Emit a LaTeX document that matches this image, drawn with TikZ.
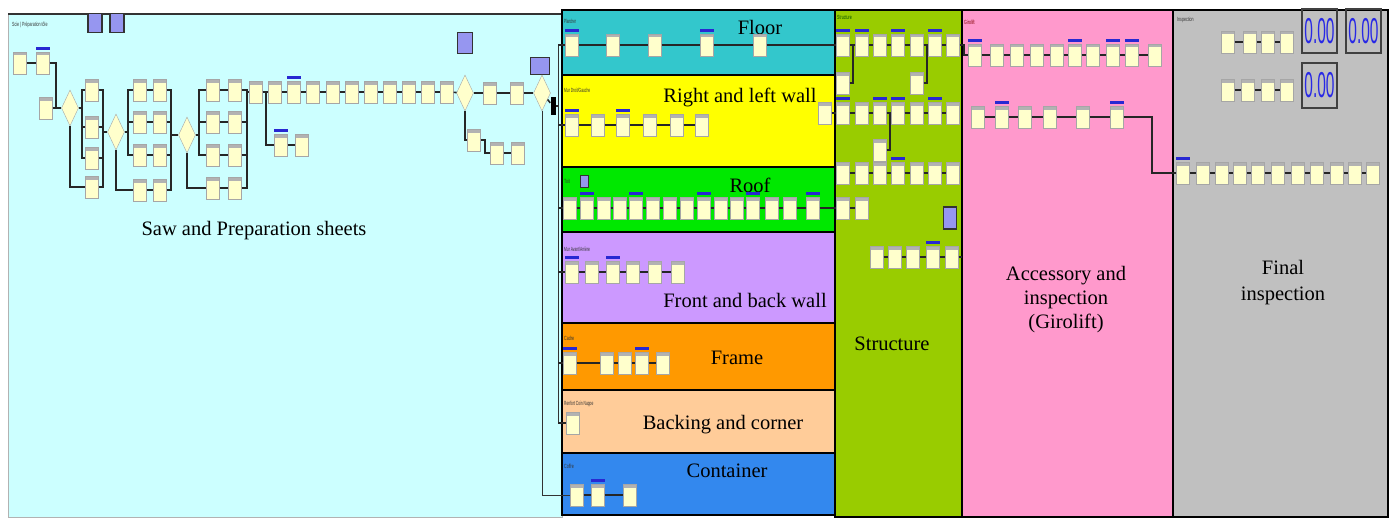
\documentclass[tikz,border=0pt]{standalone}
\usepackage{fontspec}
\setmainfont{Liberation Serif}
\newfontfamily\sansf{Liberation Sans}
\usepackage{graphicx}
\usetikzlibrary{shapes.geometric,calc}

\definecolor{sawbg}{RGB}{204,255,255}
\definecolor{floorbg}{RGB}{51,199,204}
\definecolor{wallbg}{RGB}{255,255,0}
\definecolor{roofbg}{RGB}{0,232,0}
\definecolor{frontbg}{RGB}{204,153,255}
\definecolor{framebg}{RGB}{255,153,0}
\definecolor{backbg}{RGB}{255,204,153}
\definecolor{contbg}{RGB}{51,136,238}
\definecolor{structbg}{RGB}{153,204,0}
\definecolor{girobg}{RGB}{255,153,204}
\definecolor{inspbg}{RGB}{192,192,192}
\definecolor{cream}{RGB}{255,255,204}
\definecolor{barblue}{RGB}{40,40,210}
\definecolor{purplebox}{RGB}{150,150,240}
\definecolor{valblue}{RGB}{40,40,230}

\tikzset{
 proc/.style={rectangle, draw=gray!70, fill=cream, minimum width=13pt, minimum height=22pt, inner sep=0pt, line width=0.4pt,
   path picture={\fill[gray!60] (path picture bounding box.north west) rectangle ([yshift=-3.5pt]path picture bounding box.north east);}},
 bbar/.style={fill=barblue, minimum width=14pt, minimum height=3pt, inner sep=0pt, anchor=south},
 dec/.style={diamond, draw=gray!70, fill=cream, aspect=0.45, minimum width=17pt, minimum height=36pt, inner sep=0pt},
 conn/.style={line width=1.6pt, draw=black!85},
 thinconn/.style={line width=1pt, draw=black!80},
 pbox/.style={rectangle, draw=black!80, line width=1.2pt, fill=purplebox, inner sep=0pt},
 panel/.style={draw=black, line width=1.5pt},
 biglab/.style={font=\fontsize{20.5}{24}\selectfont, inner sep=0pt, anchor=base},
 tinylab/.style={font=\sansf\fontsize{6}{6}\selectfont, inner sep=0pt, anchor=west, text=black!80},
 valbox/.style={rectangle, draw=black!75, line width=1.5pt, inner sep=0pt, text=valblue, minimum width=35pt},
}

\newcommand\mkchain[3]{%
  \foreach \xx [count=\ii] in {#3} {\node[proc] (#1\ii) at (\xx,#2) {};}%
  \foreach \xx [count=\ii, remember=\ii as \jj (initially 0)] in {#3} {\ifnum\ii>1 \draw[conn] (#1\jj) -- (#1\ii);\fi}%
}
\newcommand\mkbars[2]{\foreach \ii in {#2} {\node[bbar] (#1\ii-bar) at ([yshift=1.5pt]#1\ii.north) {};}}

\begin{document}
\begin{tikzpicture}[x=1pt,y=-1pt]
\useasboundingbox (0,0) rectangle (1391,519);
% ---------- panels
\path[fill=sawbg, draw=gray!60, line width=0.8pt] (8,14) rectangle (562,517);
\draw[line width=2pt, black!80] (8,14) -- (562,14);
\path[panel, fill=floorbg] (562,10) rectangle (835,75);
\path[panel, fill=wallbg] (562,75) rectangle (835,167);
\path[panel, fill=roofbg] (562,167) rectangle (835,232);
\path[panel, fill=frontbg] (562,232) rectangle (835,323);
\path[panel, fill=framebg] (562,323) rectangle (835,390);
\path[panel, fill=backbg] (562,390) rectangle (835,453);
\path[panel, fill=contbg] (562,453) rectangle (835,515);
\path[panel, fill=structbg] (835,10) rectangle (962,517);
\path[panel, fill=girobg] (962,10) rectangle (1173,517);
\path[panel, fill=inspbg] (1173,10) rectangle (1388,517);

% ---------- big labels
\node[biglab] (lab-saw) at (254,235) {Saw and Preparation sheets};
\node[biglab] (lab-floor) at (760,35) {Floor};
\node[biglab] (lab-wall) at (740,102) {Right and left wall};
\node[biglab] (lab-roof) at (750,192) {Roof};
\node[biglab] (lab-front) at (745,307) {Front and back wall};
\node[biglab] (lab-frame) at (737,364) {Frame};
\node[biglab] (lab-back) at (723,429) {Backing and corner};
\node[biglab] (lab-cont) at (727,477) {Container};
\node[biglab] (lab-struct) at (892,350) {Structure};
\node[font=\fontsize{20.5}{24}\selectfont, align=center, inner sep=0pt] (lab-giro) at (1066,300) {Accessory and\\inspection\\(Girolift)};
\node[font=\fontsize{20.5}{26}\selectfont, align=center, inner sep=0pt] (lab-insp) at (1283,283) {Final\\inspection};

% ---------- tiny titles
\node[tinylab] (t-saw) at (12,25) {\scalebox{0.6}[1]{Scie | Préparation tôle}};
\node[tinylab] (t-floor) at (564,21) {\scalebox{0.5}[1]{Plancher}};
\node[tinylab] (t-wall) at (564,90) {\scalebox{0.55}[1]{Mur Droit/Gauche}};
\node[tinylab] (t-roof) at (564,181) {\scalebox{0.6}[1]{Toit}};
\node[pbox, line width=0.8pt, minimum width=8pt, minimum height=12pt] (t-roofbox) at (584,181) {};
\node[tinylab] (t-front) at (564,249) {\scalebox{0.55}[1]{Mur Avant/Arrière}};
\node[tinylab] (t-frame) at (564,338) {\scalebox{0.6}[1]{Cadre}};
\node[tinylab] (t-back) at (564,404) {\scalebox{0.55}[1]{Renfort Coin Nappe}};
\node[tinylab] (t-cont) at (564,466) {\scalebox{0.6}[1]{Coffre}};
\node[tinylab, text=green!30!black] (t-struct) at (837,17) {\scalebox{0.6}[1]{Structure}};
\node[tinylab, text=red!50!black] (t-giro) at (964,22) {\scalebox{0.6}[1]{Girolift}};
\node[tinylab] (t-insp) at (1177,20) {\scalebox{0.6}[1]{Inspection}};

% ---------- purple boxes
\node[pbox, minimum width=14pt, minimum height=19pt] (pb1) at (95,23) {};
\node[pbox, minimum width=14pt, minimum height=19pt] (pb2) at (117,23) {};
\node[pbox, minimum width=15pt, minimum height=21pt] (pb3) at (465,43) {};
\node[pbox, minimum width=19pt, minimum height=17pt] (pb4) at (540,66) {};

% ---------- saw & preparation flow
\node[proc] (a1) at (20,63) {};
\node[proc] (a2) at (43,63) {};
\mkbars{a}{2}
\node[proc] (a3) at (46,108) {};
\node[dec] (d1) at (70,108) {};
\foreach \yy [count=\ii] in {90,127,158,187} {\node[proc] (c1-\ii) at (92,\yy) {};}
\node[dec] (d2) at (116,132) {};
\foreach \yy [count=\ii] in {90,122,155,190} {\node[proc] (c2l-\ii) at (140,\yy) {}; \node[proc] (c2r-\ii) at (160,\yy) {};}
\node[dec] (d3) at (187,135) {};
\foreach \yy [count=\ii] in {90,122,155,188} {\node[proc] (c3l-\ii) at (213,\yy) {}; \node[proc] (c3r-\ii) at (235,\yy) {};}
\mkchain{m}{92}{256,275,294,313,333,352,371,390,409,428,447}
\mkbars{m}{3}
\node[proc] (br1) at (281,145) {};
\mkbars{br}{1}
\node[proc] (br2) at (302,145) {};
\node[dec] (d4) at (465,93) {};
\node[proc] (n1) at (490,93) {};
\node[proc] (n2) at (517,93) {};
\node[dec] (d5) at (542,93) {};
\node[proc] (p1) at (474,140) {};
\node[proc] (p2) at (497,153) {};
\node[proc] (p3) at (518,153) {};
\node[fill=black, minimum width=5pt, minimum height=18pt, inner sep=0pt] (ex) at (553,106) {};

\draw[conn] (a1) -- (a2);
\draw[conn] (a2.east) -- ++(6,0) |- (d1.west);
\draw[conn] (a3) -- (d1);
\foreach \ii in {1,2,3} {\draw[conn] (d1.east) -- ++(3,0) |- (c1-\ii.west);}
\draw[conn] (d1.south) |- (c1-4.west);
\foreach \ii in {1,...,4} {\draw[conn] (c1-\ii.east) -- ++(4,0) |- (d2.west);}
\foreach \ii in {1,2,3} {\draw[conn] (d2.east) -- ++(3,0) |- (c2l-\ii.west);}
\draw[conn] (d2.south) |- (c2l-4.west);
\foreach \ii in {1,...,4} {\draw[conn] (c2l-\ii) -- (c2r-\ii); \draw[conn] (c2r-\ii.east) -- ++(4,0) |- (d3.west);}
\foreach \ii in {1,2,3} {\draw[conn] (d3.east) -- ++(3,0) |- (c3l-\ii.west);}
\draw[conn] (d3.south) |- (c3l-4.west);
\foreach \ii in {1,...,4} {\draw[conn] (c3l-\ii) -- (c3r-\ii); \draw[conn] (c3r-\ii.east) -- ++(5,0) |- (m1.west);}
\draw[conn] (m1.east) -- ++(3,0) |- (br1.west);
\draw[conn] (br1) -- (br2);
\draw[conn] (m11) -- (d4);
\draw[conn] (d4) -- (n1);
\draw[conn] (n1) -- (n2);
\draw[conn] (n2) -- (d5);
\draw[conn] (d4.south) |- (p1.west);
\draw[conn] (p1.east) -- ++(4,0) |- (p2.west);
\draw[conn] (p2) -- (p3);
\draw[conn] (d5) -- (ex);

% ---------- product panels
\mkchain{fl}{45}{572,613,655,707,760}
\mkbars{fl}{1,4}
\mkchain{wl}{125}{572,598,623,650,677,702}
\mkbars{wl}{1,3}
\mkchain{rf}{208}{570,587,604,620,636,653,670,687,704,721,737,753,772,790,813}
\mkbars{rf}{2,5,9,12,15}
\mkchain{fb}{272}{572,592,613,633,655,678}
\mkbars{fb}{1,3}
\mkchain{fr}{363}{570,607,625,642,663}
\mkbars{fr}{1,4}
\node[proc] (bk1) at (573,423) {};
\mkchain{ct}{495}{577,598,630}
\mkbars{ct}{2}

% bus from saw area
\coordinate (bt) at (558,45);
\coordinate (bb) at (558,423);
\draw[thinconn] (bt) -- (bb);
\draw[conn] (ex.east) -- (ex.east -| bt);
\draw[conn] (bt) -- (fl1.west);
\foreach \p in {wl1,rf1,fb1,fr1,bk1} {\draw[conn] (\p.west -| bt) -- (\p.west);}
\draw[thinconn] (d5.south) |- (ct1.west);

% ---------- structure
\mkchain{s1-}{45}{843,862,880,898,917,935,953}
\mkbars{s1-}{1,2,4,6}
\node[proc] (sa) at (843,83) {};
\node[proc] (sb) at (917,83) {};
\draw[conn] (sa.east) -- ++(3,0) |- (s1-2.west);
\draw[conn] (sb.east) -- ++(3,0) |- (s1-6.west);
\draw[conn] (fl5) -- (s1-1);
\mkchain{s2-}{113}{825,843,862,880,898,917,935,953}
\mkbars{s2-}{2,4,5,7}
\node[proc] (sc) at (880,150) {};
\draw[conn] (sc.east) -- ++(3,0) |- (s2-5.west);
\mkchain{s3-}{173}{843,862,880,898,917,935,953}
\mkbars{s3-}{4}
\mkchain{s4-}{208}{843,862}
\draw[conn] (rf15) -- (s4-1);
\mkchain{s5-}{257}{877,895,913,933,952}
\mkbars{s5-}{4}
\coordinate (s5end) at (962,257);
\draw[conn] (s5-5) -- (s5end);
\node[pbox, minimum width=13pt, minimum height=22pt] (sp) at (950,218) {};

% ---------- girolift
\mkchain{g1-}{55}{975,997,1017,1037,1057,1075,1093,1113,1132,1155}
\mkbars{g1-}{1,6,8,9}
\draw[conn] (s1-7.east) -- ++(4,0) |- (g1-1.west);
\mkchain{g2-}{117}{978,1002,1025,1050,1083,1117}
\mkbars{g2-}{2,6}

% ---------- inspection
\mkchain{i1-}{42}{1228,1250,1268,1287}
\mkchain{i2-}{90}{1228,1248,1268,1287}
\mkchain{i3-}{173}{1183,1203,1222,1240,1258,1278,1298,1317,1337,1355,1373}
\mkbars{i3-}{1}
\coordinate (gturn) at (1152,117);
\draw[conn] (g2-6.east) -- (gturn) |- (i3-1.west);
\node[valbox, minimum height=44pt] (v1) at (1319.5,31) {\scalebox{0.43}[1]{\sansf\fontsize{36}{36}\selectfont 0.00}};
\node[valbox, minimum height=44pt] (v2) at (1363.5,31) {\scalebox{0.43}[1]{\sansf\fontsize{36}{36}\selectfont 0.00}};
\node[valbox, minimum height=45pt] (v3) at (1319.5,85.5) {\scalebox{0.43}[1]{\sansf\fontsize{36}{36}\selectfont 0.00}};
\end{tikzpicture}
\end{document}
